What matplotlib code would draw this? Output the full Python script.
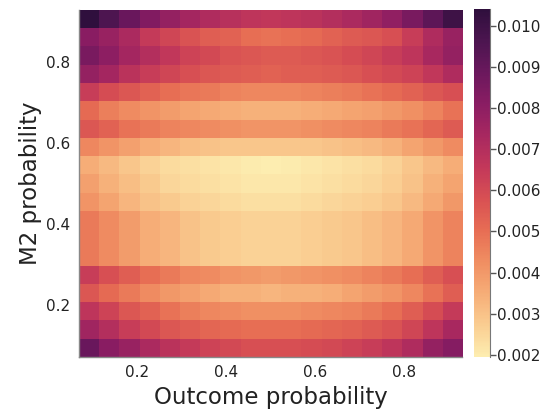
import numpy as np
import matplotlib
matplotlib.use("Agg")
import matplotlib.pyplot as plt
from matplotlib.colors import LinearSegmentedColormap

# cmocean "matter" palette (light yellow -> dark purple)
matter_colors = [
    (253, 237, 176), (250, 205, 145), (246, 173, 119), (240, 142, 98),
    (231, 109, 84), (216, 80, 83), (195, 56, 90), (168, 40, 96),
    (138, 29, 99), (107, 24, 93), (76, 21, 80), (47, 15, 61),
]
matter = LinearSegmentedColormap.from_list(
    "matter", [tuple(c / 255 for c in rgb) for rgb in matter_colors]
)

# Grid values: rows run from high M2 probability (top) to low (bottom),
# columns run from low to high outcome probability.
row_00 = [0.0104, 0.0096, 0.0089, 0.0083, 0.0078, 0.0074, 0.0071, 0.0069, 0.0067, 0.0066, 0.0067, 0.0068, 0.0070, 0.0072, 0.0075, 0.0079, 0.0085, 0.0092, 0.0100]
row_01 = [0.0081, 0.0077, 0.0072, 0.0065, 0.0061, 0.0057, 0.0054, 0.0053, 0.0050, 0.0049, 0.0050, 0.0051, 0.0053, 0.0055, 0.0056, 0.0058, 0.0064, 0.0071, 0.0077]
row_02 = [0.0085, 0.0080, 0.0074, 0.0070, 0.0066, 0.0062, 0.0060, 0.0057, 0.0056, 0.0055, 0.0055, 0.0056, 0.0057, 0.0059, 0.0061, 0.0064, 0.0067, 0.0073, 0.0078]
row_03 = [0.0078, 0.0074, 0.0068, 0.0064, 0.0061, 0.0058, 0.0056, 0.0055, 0.0054, 0.0053, 0.0054, 0.0054, 0.0055, 0.0056, 0.0058, 0.0060, 0.0062, 0.0066, 0.0071]
row_04 = [0.0064, 0.0059, 0.0056, 0.0053, 0.0050, 0.0048, 0.0047, 0.0045, 0.0044, 0.0044, 0.0044, 0.0045, 0.0046, 0.0047, 0.0049, 0.0051, 0.0053, 0.0056, 0.0058]
row_05 = [0.0051, 0.0046, 0.0043, 0.0041, 0.0039, 0.0037, 0.0036, 0.0035, 0.0034, 0.0034, 0.0034, 0.0035, 0.0036, 0.0037, 0.0038, 0.0040, 0.0042, 0.0045, 0.0049]
row_06 = [0.0056, 0.0053, 0.0049, 0.0047, 0.0045, 0.0044, 0.0043, 0.0042, 0.0041, 0.0041, 0.0041, 0.0042, 0.0043, 0.0044, 0.0045, 0.0047, 0.0049, 0.0052, 0.0055]
row_07 = [0.0044, 0.0041, 0.0038, 0.0035, 0.0033, 0.0031, 0.0030, 0.0029, 0.0029, 0.0029, 0.0029, 0.0029, 0.0030, 0.0031, 0.0032, 0.0034, 0.0037, 0.0040, 0.0043]
row_08 = [0.0035, 0.0032, 0.0029, 0.0026, 0.0024, 0.0023, 0.0022, 0.0021, 0.0020, 0.00195, 0.0020, 0.0021, 0.0022, 0.0023, 0.0024, 0.0026, 0.0029, 0.0032, 0.0035]
row_09 = [0.0038, 0.0034, 0.0031, 0.0028, 0.0025, 0.0024, 0.0023, 0.0022, 0.0021, 0.0021, 0.0021, 0.0022, 0.0023, 0.0024, 0.0025, 0.0027, 0.0030, 0.0034, 0.0037]
row_10 = [0.0041, 0.0037, 0.0033, 0.0030, 0.0028, 0.0026, 0.0025, 0.0024, 0.0023, 0.0023, 0.0023, 0.0024, 0.0025, 0.0026, 0.0027, 0.0029, 0.0032, 0.0036, 0.0040]
row_11 = [0.0047, 0.0043, 0.0039, 0.0035, 0.0033, 0.0030, 0.0028, 0.0027, 0.0026, 0.0026, 0.0026, 0.0027, 0.0028, 0.0029, 0.0031, 0.0033, 0.0036, 0.0041, 0.0045]
row_12 = [0.0047, 0.0043, 0.0039, 0.0035, 0.0033, 0.0030, 0.0028, 0.0027, 0.0026, 0.0026, 0.0026, 0.0027, 0.0028, 0.0029, 0.0031, 0.0033, 0.0036, 0.0041, 0.0045]
row_13 = [0.0047, 0.0043, 0.0039, 0.0035, 0.0033, 0.0030, 0.0028, 0.0027, 0.0026, 0.0026, 0.0026, 0.0027, 0.0028, 0.0029, 0.0031, 0.0033, 0.0036, 0.0041, 0.0045]
row_14 = [0.0064, 0.0058, 0.0054, 0.0050, 0.0047, 0.0044, 0.0043, 0.0041, 0.0040, 0.0039, 0.0040, 0.0041, 0.0042, 0.0043, 0.0045, 0.0047, 0.0050, 0.0054, 0.0058]
row_15 = [0.0056, 0.0051, 0.0047, 0.0043, 0.0040, 0.0038, 0.0036, 0.0034, 0.0034, 0.0033, 0.0034, 0.0034, 0.0035, 0.0037, 0.0039, 0.0041, 0.0044, 0.0049, 0.0054]
row_16 = [0.0067, 0.0062, 0.0056, 0.0053, 0.0049, 0.0046, 0.0044, 0.0043, 0.0042, 0.0042, 0.0042, 0.0043, 0.0044, 0.0045, 0.0047, 0.0050, 0.0054, 0.0059, 0.0065]
row_17 = [0.0075, 0.0070, 0.0064, 0.0060, 0.0056, 0.0054, 0.0052, 0.0051, 0.0050, 0.0050, 0.0050, 0.0051, 0.0052, 0.0053, 0.0055, 0.0057, 0.0061, 0.0067, 0.0073]
row_18 = [0.0089, 0.0081, 0.0077, 0.0072, 0.0068, 0.0065, 0.0062, 0.0060, 0.0058, 0.0058, 0.0058, 0.0059, 0.0060, 0.0062, 0.0064, 0.0067, 0.0071, 0.0078, 0.0082]

grid = np.array([row_00, row_01, row_02, row_03, row_04, row_05, row_06,
                 row_07, row_08, row_09, row_10, row_11, row_12, row_13,
                 row_14, row_15, row_16, row_17, row_18])

x_ticks = [0.2, 0.4, 0.6, 0.8]
y_ticks = [0.2, 0.4, 0.6, 0.8]
cbar_ticks = [0.002, 0.003, 0.004, 0.005, 0.006, 0.007, 0.008, 0.009, 0.010]

fig = plt.figure(figsize=(5.56, 4.17), dpi=100)
ax = fig.add_axes([0.142, 0.144, 0.689, 0.832])
cax = fig.add_axes([0.8525, 0.144, 0.029, 0.834])

im = ax.imshow(grid, cmap=matter, origin="upper", aspect="auto",
               extent=(0.07, 0.93, 0.07, 0.93),
               vmin=grid.min(), vmax=grid.max(), interpolation="nearest")

ax.set_xticks(x_ticks)
ax.set_yticks(y_ticks)
ax.set_xticklabels([f"{v:.1f}" for v in x_ticks])
ax.set_yticklabels([f"{v:.1f}" for v in y_ticks])
ax.tick_params(length=0, labelsize=11, pad=6, labelcolor="#222222")
ax.set_xlabel("Outcome probability", fontsize=16.5, color="#222222", labelpad=4)
ax.set_ylabel("M2 probability", fontsize=16.5, color="#222222", labelpad=3)
for side in ("top", "right"):
    ax.spines[side].set_visible(False)
for side in ("left", "bottom"):
    ax.spines[side].set_color("#888888")
    ax.spines[side].set_linewidth(1.0)

cb = fig.colorbar(im, cax=cax)
cb.set_ticks(cbar_ticks)
cb.set_ticklabels([f"{v:.3f}" for v in cbar_ticks])
cb.outline.set_visible(False)
cax.spines["right"].set_visible(True)
cax.spines["right"].set_color("#777777")
cax.tick_params(length=4, width=1, color="#555555", labelsize=11, pad=1,
                labelcolor="#222222")

fig.savefig("out.png", dpi=100)
